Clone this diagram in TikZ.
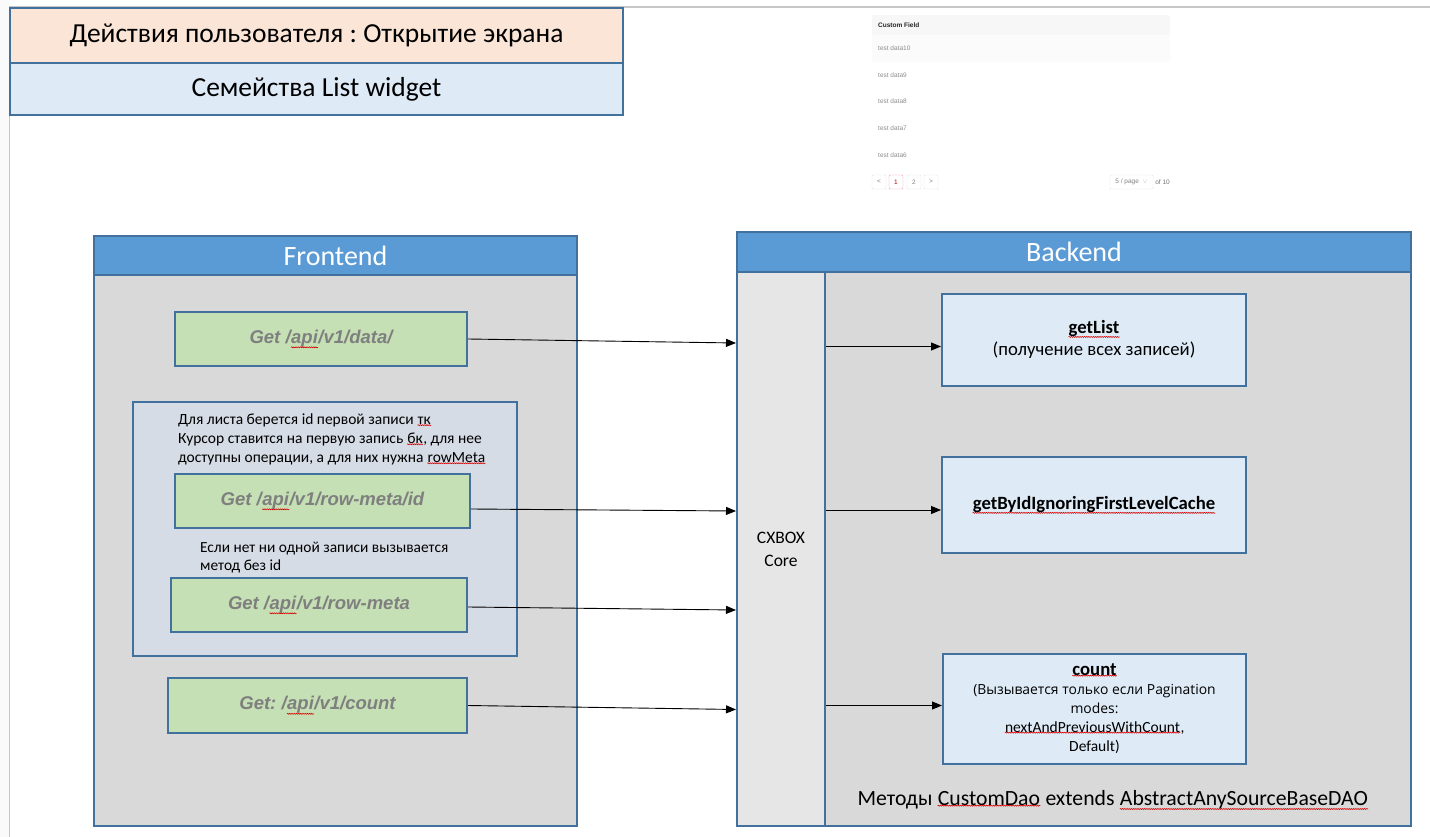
\documentclass[tikz,border=0pt]{standalone}
\usepackage{fontspec}
\setmainfont{Carlito}
\newfontfamily\arialfont{Liberation Sans}
\newfontfamily\segoefont{Open Sans}
\usetikzlibrary{positioning,arrows.meta,decorations.pathmorphing}
\frenchspacing
\definecolor{frameblue}{HTML}{41719C}
\definecolor{headblue}{HTML}{5B9BD5}
\definecolor{peach}{HTML}{FBE5D6}
\definecolor{paleblue}{HTML}{DEEBF7}
\definecolor{bodygray}{HTML}{D9D9D9}
\definecolor{notegray}{HTML}{D6DCE5}
\definecolor{coregray}{HTML}{E7E6E6}
\definecolor{callgreen}{HTML}{C5E0B4}
\definecolor{calltext}{HTML}{7F7F7F}
\definecolor{pagered}{HTML}{F0A0A8}
\tikzset{
    box/.style={draw=frameblue, line width=2pt, inner sep=0pt, align=center},
    titlebox/.style={box, minimum width=613pt, font=\fontsize{27.5}{30}\selectfont},
    headbox/.style={box, fill=headblue, text=white, font=\fontsize{28}{30}\selectfont},
    call/.style={box, fill=callgreen, text=calltext, font=\arialfont\bfseries\itshape\fontsize{18.5}{22}\selectfont},
    method/.style={box, fill=paleblue, minimum width=304pt, font=\fontsize{18.7}{22}\selectfont},
    link/.style={-{Triangle[length=10pt,width=8pt]}, line width=0.9pt},
    tabtext/.style={anchor=west, inner sep=0pt, text=black!45, font=\arialfont\fontsize{6.5}{8}\selectfont},
    pagebtn/.style={draw=black!12, rounded corners=1pt, minimum size=14pt, inner sep=0pt, text=black!50, font=\arialfont\fontsize{6.5}{8}\selectfont},
    wave/.style={draw=red!85!black, line width=0.6pt, decorate, decoration={snake, amplitude=0.5pt, segment length=2.2pt}},
}
% spell-check underline
\newcommand{\spell}[1]{\tikz[baseline=(w.base)]{\node[draw=none, fill=none, inner sep=0pt, minimum size=0pt, font=, anchor=base] (w) {#1};\draw[wave] (w.south west) -- (w.south east);}}

\begin{document}
\begin{tikzpicture}[x=1pt,y=1pt,yscale=-1,xscale=1]
\useasboundingbox (0,0) rectangle (1430,837);
%Page edge
\fill[black!2] (0,0) rectangle (9,837);
\draw[black!22, line width=1.5pt] (9.5,837) -- (9.5,7) -- (1430,7);
%Title
\draw (316.5,35.5) node [titlebox, fill=peach, minimum height=55pt] (act) {Действия пользователя : Открытие экрана};
\draw (316.5,89) node [titlebox, fill=paleblue, minimum height=52pt] (family) {Семейства List widget};
%Table screenshot
\fill[black!3, rounded corners=2pt] (872,15) rectangle (1170,35);
\fill[black!1.5] (872,35) rectangle (1170,62);
\draw (878,25) node [tabtext, text=black!85, font=\arialfont\bfseries\fontsize{6.5}{8}\selectfont] (field) {Custom Field};
\draw (878,48) node [tabtext] (row10) {test data10};
\draw (878,75) node [tabtext] (row9) {test data9};
\draw (878,101) node [tabtext] (row8) {test data8};
\draw (878,128) node [tabtext] (row7) {test data7};
\draw (878,155) node [tabtext] (row6) {test data6};
\draw (879,182) node [pagebtn] (prev) {\textless};
\draw (896,182) node [pagebtn, draw=pagered, text=red!70!black] (pg1) {1};
\draw (914,182) node [pagebtn] (pg2) {2};
\draw (931,182) node [pagebtn] (next) {\textgreater};
\draw (1131.5,182) node [pagebtn, minimum width=43pt] (size) {5 / page \ \textcolor{black!30}{$\vee$}};
\draw (1162.5,182) node [tabtext, anchor=center, text=black!55] (total) {of 10};
%Frontend
\draw (335.5,531) node [box, fill=bodygray, minimum width=483pt, minimum height=590pt] (front) {};
\draw (335.5,255.5) node [headbox, minimum width=483pt, minimum height=39pt] (fronthead) {Frontend};
\draw (321,339) node [call, minimum width=292pt, minimum height=54pt] (data) {Get /\spell{api}/v1/data/};
\draw (325,529) node [box, fill=notegray, minimum width=384pt, minimum height=254pt] (note) {};
\draw (178,414) node [anchor=north west, inner sep=0pt, align=left, font=\fontsize{15.5}{19}\selectfont] (notetext) {Для листа берется id первой записи \spell{тк}\\Курсор ставится на первую запись \spell{бк}, для нее\\доступны операции, а для них нужна \spell{rowMeta}};
\draw (322.5,501) node [call, minimum width=295pt, minimum height=54pt] (rowid) {Get /\spell{api}/v1/row-meta/id};
\draw (200,542) node [anchor=north west, inner sep=0pt, align=left, font=\fontsize{15.4}{18}\selectfont] (emptytext) {Если нет ни одной записи вызывается\\метод без id};
\draw (319,605) node [call, minimum width=296pt, minimum height=54pt] (rowmeta) {Get /\spell{api}/v1/row-meta};
\draw (317.5,705.5) node [call, minimum width=299pt, minimum height=55pt] (count) {Get: /\spell{api}/v1/count};
%Backend
\draw (1074,529) node [box, fill=bodygray, minimum width=674pt, minimum height=594pt] (back) {};
\draw (1074,252) node [headbox, minimum width=674pt, minimum height=40pt] (backhead) {Backend};
\draw (781,549) node [box, fill=coregray, minimum width=88pt, minimum height=554pt, font=\fontsize{17.5}{23}\selectfont] (core) {CXBOX\\Core};
\draw (1094,339.5) node [method, minimum height=92pt] (getlist) {\textbf{\spell{getList}}\\(получение всех записей)};
\draw (1094,505) node [method, minimum height=96pt] (getbyid) {\textbf{\spell{getByIdIgnoringFirstLevelCache}}};
\draw (1094.5,708.5) node [method, minimum width=303pt, minimum height=110pt, font=\fontsize{13}{19}\selectfont] (countm) {{\bfseries\fontsize{18.7}{19}\selectfont \spell{count}}\\{\segoefont\fontsize{13.9}{19}\selectfont (Вызывается только если Pagination}\\{\segoefont\fontsize{13.9}{19}\selectfont modes:}\\{\fontsize{15.5}{19}\selectfont \spell{nextAndPreviousWithCount},}\\{\fontsize{15.5}{19}\selectfont Default)}};
\draw (1113,800) node [font=\fontsize{21.7}{24}\selectfont] (dao) {Методы \spell{CustomDao} extends \spell{AbstractAnySourceBaseDAO}};
%Straight Lines
\draw[link] (data.east) -- ([yshift=4pt]data.east -| core.west);
\draw[link] ([yshift=8pt]rowid.east) -- ([yshift=10pt]rowid.east -| core.west);
\draw[link] ([yshift=2pt]rowmeta.east) -- ([yshift=5pt]rowmeta.east -| core.west);
\draw[link] (count.east) -- ([yshift=4pt]count.east -| core.west);
\draw[link] ([yshift=7pt]core.east |- getlist.west) -- ([yshift=7pt]getlist.west);
\draw[link] ([yshift=5pt]core.east |- getbyid.west) -- ([yshift=5pt]getbyid.west);
\draw[link] ([yshift=-3pt]core.east |- countm.west) -- ([yshift=-3pt]countm.west);
\end{tikzpicture}
\end{document}
